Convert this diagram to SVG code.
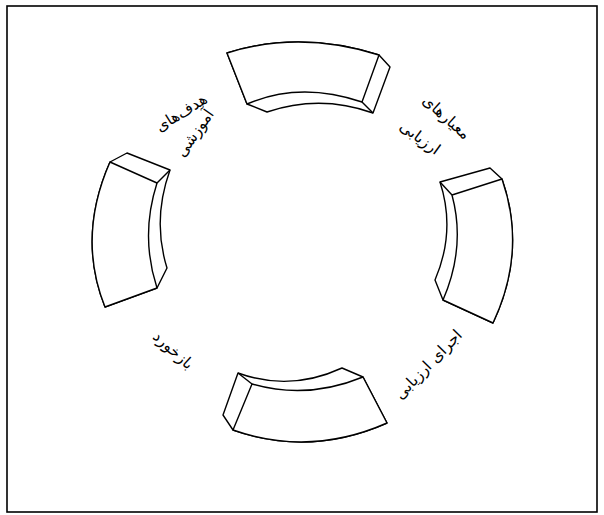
<svg xmlns="http://www.w3.org/2000/svg" width="604" height="515" viewBox="0 0 604 515">
<style>
.frame{fill:none;stroke:#000;stroke-width:1.6}
.blk{fill:#fff;stroke:#000;stroke-width:1.4;stroke-linejoin:round}
.edge{fill:none;stroke:#000;stroke-width:1.4}
.lbl{font-family:"DejaVu Sans","Noto Sans",sans-serif;font-size:15.5px;fill:#000;text-anchor:middle}
</style>
<rect width="604" height="515" fill="#fff"/>
<rect class="frame" x="7" y="6" width="590" height="506"/>
<g id="block-top">
<path class="blk" d="M227,53 Q300,30 379,55 L390,67 L373,113 Q320,94 267,112 L247,104 Z"/>
<path class="blk" d="M227,53 Q300,30 379,55 L362,102 Q300,81 247,104 Z"/>
<path class="edge" d="M362,102 L373,113"/>
</g>
<g id="block-right">
<path class="blk" d="M440,182 L490,168 L502,179 Q527,251 493,323 L443,300 L435,280 Q456,231 440,182 Z"/>
<path class="blk" d="M452,195 L502,179 Q527,251 493,323 L443,300 Q466,247 452,195 Z"/>
<path class="edge" d="M440,182 L452,195"/>
</g>
<g id="block-bottom">
<path class="blk" d="M238,373 Q290,392 342,368 L363,377 L387,423 Q310,457 233,430 L223,415 Z"/>
<path class="blk" d="M252,384 Q307,400 363,377 L387,423 Q310,457 233,430 Z"/>
<path class="edge" d="M238,373 L252,384"/>
</g>
<g id="block-left">
<path class="blk" d="M110,162 L127,153 L170,170 Q152,220 167,268 L157,288 L105,307 Q77,237 110,162 Z"/>
<path class="blk" d="M110,162 L157,183 Q140,236 157,288 L105,307 Q77,237 110,162 Z"/>
<path class="edge" d="M157,183 L170,170"/>
</g>
<g id="label-goals">
<text class="lbl" transform="translate(184,117) rotate(-32)">هدف‌های</text>
<text class="lbl" transform="translate(199,136) rotate(-55)">آموزشی</text>
</g>
<g id="label-criteria">
<text class="lbl" transform="translate(443,121) rotate(42)">معیارهای</text>
<text class="lbl" transform="translate(417,142) rotate(36)">ارزیابی</text>
</g>
<g id="label-implementation">
<text class="lbl" transform="translate(432,368) rotate(-46)">اجرای ارزیابی</text>
</g>
<g id="label-feedback">
<text class="lbl" transform="translate(170,354) rotate(42)">بازخورد</text>
</g>
</svg>
